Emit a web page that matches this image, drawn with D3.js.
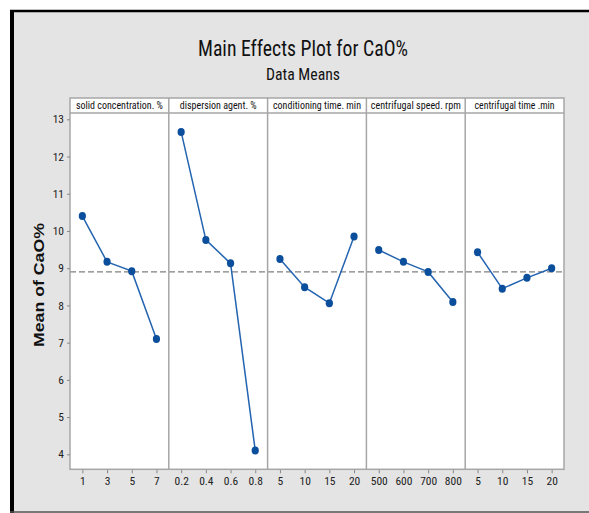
<!DOCTYPE html>
<html>
<head>
<meta charset="utf-8">
<script src="https://cdn.jsdelivr.net/npm/d3@7"></script>
<style>
  html, body { margin: 0; padding: 0; background: #ffffff; }
  svg { display: block; }
  .cond { font-family: "Liberation Sans Narrow", "Arial Narrow", "Roboto Condensed", "Liberation Sans", sans-serif; }
</style>
</head>
<body>
<svg id="chart" width="589" height="513"></svg>
<script>
// Factors and their levels
const factors = [
  "solid concentration. %",
  "dispersion agent. %",
  "conditioning time. min",
  "centrifugal speed. rpm",
  "centrifugal time .min"
];
const levels = [
  ["1", "3", "5", "7"],
  ["0.2", "0.4", "0.6", "0.8"],
  ["5", "10", "15", "20"],
  ["500", "600", "700", "800"],
  ["5", "10", "15", "20"]
];
// Mean of CaO% at each factor level
const solidConc   = [10.40, 9.17, 8.92, 7.10];
const dispAgent   = [12.66, 9.76, 9.13, 4.10];
const condTime    = [9.25, 8.49, 8.06, 9.85];
const centSpeed   = [9.49, 9.17, 8.90, 8.09];
const centTime    = [9.43, 8.45, 8.74, 9.00];
const means = [solidConc, dispAgent, condTime, centSpeed, centTime];
const grandMean = 8.90;
const yTicks = [4, 5, 6, 7, 8, 9, 10, 11, 12, 13];

const svg = d3.select("#chart");

// Figure background and border
svg.append("rect").attr("x", 10).attr("y", 10).attr("width", 579).attr("height", 503).attr("fill", "#e4e4e4");
svg.append("line").attr("x1", 10).attr("x2", 589).attr("y1", 11).attr("y2", 11).attr("stroke", "#000").attr("stroke-width", 2.5);
svg.append("line").attr("x1", 12).attr("x2", 12).attr("y1", 10).attr("y2", 513).attr("stroke", "#000").attr("stroke-width", 4);
svg.append("line").attr("x1", 10).attr("x2", 589).attr("y1", 512).attr("y2", 512).attr("stroke", "#555").attr("stroke-width", 1.5);

// Titles
svg.append("text").attr("class", "cond").attr("x", 303).attr("y", 56).attr("text-anchor", "middle")
  .attr("font-size", 22).attr("fill", "#111").attr("textLength", 210).attr("lengthAdjust", "spacingAndGlyphs")
  .text("Main Effects Plot for CaO%");
svg.append("text").attr("class", "cond").attr("x", 303).attr("y", 80).attr("text-anchor", "middle")
  .attr("font-size", 16).attr("fill", "#111").attr("textLength", 74).attr("lengthAdjust", "spacingAndGlyphs")
  .text("Data Means");

// Layout
const left = 70, right = 564, headTop = 98, plotTop = 113, plotBottom = 469.3;
const panelW = (right - left) / factors.length;
const y = d3.scaleLinear().domain([4, 13]).range([454.3, 119.3]);

// Plot area
svg.append("rect").attr("x", left).attr("y", headTop).attr("width", right - left).attr("height", plotBottom - headTop)
  .attr("fill", "#fff");

const frameColor = "#a6a6a6";
const headerWidths = [87, 77, 88, 90, 80];

factors.forEach((f, i) => {
  const x0 = left + i * panelW;
  const x = d3.scalePoint().domain(levels[i]).range([x0, x0 + panelW]).padding(0.5);

  // header label
  svg.append("text").attr("class", "cond").attr("x", x0 + panelW / 2).attr("y", 109)
    .attr("text-anchor", "middle").attr("font-size", 10.5).attr("fill", "#111")
    .attr("textLength", headerWidths[i]).attr("lengthAdjust", "spacingAndGlyphs")
    .text(f);

  // x axis for this panel
  const ax = svg.append("g").attr("transform", `translate(0,${plotBottom})`)
    .call(d3.axisBottom(x).tickSize(4).tickPadding(4));
  ax.select(".domain").remove();
  ax.selectAll(".tick line").attr("stroke", "#888");
  ax.selectAll(".tick text").attr("class", "cond").attr("font-size", 11.5).attr("fill", "#222");
});

// Reference line at the overall mean
svg.append("line").attr("x1", left).attr("x2", right).attr("y1", y(grandMean)).attr("y2", y(grandMean))
  .attr("stroke", "#808080").attr("stroke-width", 1.4).attr("stroke-dasharray", "6,3");

// Series lines and points
factors.forEach((f, i) => {
  const x0 = left + i * panelW;
  const x = d3.scalePoint().domain(levels[i]).range([x0, x0 + panelW]).padding(0.5);
  const pts = levels[i].map((l, j) => [x(l), y(means[i][j])]);
  svg.append("path").attr("d", d3.line()(pts)).attr("fill", "none")
    .attr("stroke", "#2464b0").attr("stroke-width", 1.5);
  svg.selectAll(null).data(pts).enter().append("ellipse")
    .attr("cx", d => d[0]).attr("cy", d => d[1]).attr("rx", 3.6).attr("ry", 4)
    .attr("fill", "#0b4e9c");
});

// Frame, header strip and panel dividers
const frame = svg.append("g").attr("fill", "none").attr("stroke", frameColor).attr("stroke-width", 1.5);
frame.append("rect").attr("x", left).attr("y", headTop).attr("width", right - left).attr("height", plotBottom - headTop);
frame.append("line").attr("x1", left).attr("x2", right).attr("y1", plotTop).attr("y2", plotTop);
for (let i = 1; i < factors.length; i++) {
  const xv = left + i * panelW;
  frame.append("line").attr("x1", xv).attr("x2", xv).attr("y1", headTop).attr("y2", plotBottom);
}

// y axis
const ay = svg.append("g").attr("transform", `translate(${left},0)`)
  .call(d3.axisLeft(y).tickValues(yTicks).tickSize(3).tickPadding(3));
ay.select(".domain").remove();
ay.selectAll(".tick line").attr("stroke", "#888");
ay.selectAll(".tick text").attr("class", "cond").attr("font-size", 11.5).attr("fill", "#222");

// y axis title
svg.append("text").attr("transform", "translate(44,285) rotate(-90)").attr("text-anchor", "middle")
  .attr("font-family", "Liberation Sans, Arial, sans-serif").attr("font-weight", "bold")
  .attr("font-size", 15.5).attr("fill", "#111").attr("textLength", 124).attr("lengthAdjust", "spacingAndGlyphs")
  .text("Mean of CaO%");
</script>
</body>
</html>
